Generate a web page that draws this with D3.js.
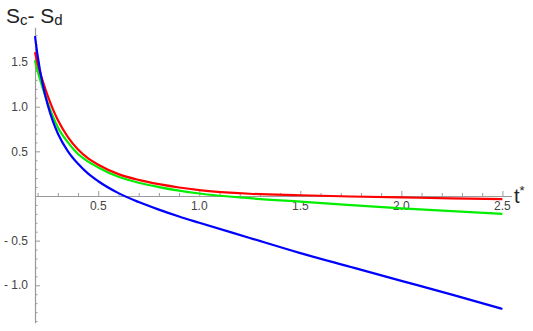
<!DOCTYPE html>
<html lang="en">
<head>
  <meta charset="UTF-8">
  <title>Sc - Sd vs t*</title>
  <script src="https://d3js.org/d3.v7.min.js"></script>
  <style>
    body { margin: 0; background: #fff; }
    svg { display: block; font-family: "Liberation Sans", Arial, sans-serif; }
  </style>
</head>
<body>
  <svg id="chart" width="533" height="331"></svg>
  <script>
    // t* sample points
    const tValues = [0.187, 0.2, 0.225, 0.25, 0.275, 0.3, 0.35, 0.4, 0.45, 0.5, 0.6, 0.7, 0.8, 0.9, 1.0, 1.25, 1.5, 1.75, 2.0, 2.25, 2.5];
    const redValues   = [1.61, 1.48, 1.29, 1.12, 0.975, 0.85, 0.66, 0.52, 0.42, 0.35, 0.245, 0.18, 0.132, 0.095, 0.066, 0.025, 0.008, -0.006, -0.016, -0.026, -0.035];
    const greenValues = [1.52, 1.40, 1.21, 1.04, 0.895, 0.77, 0.60, 0.47, 0.385, 0.32, 0.215, 0.148, 0.100, 0.060, 0.028, -0.025, -0.064, -0.102, -0.138, -0.17, -0.2];
    const blueValues  = [1.79, 1.57, 1.25, 1.02, 0.84, 0.70, 0.50, 0.36, 0.25, 0.165, 0.032, -0.068, -0.153, -0.23, -0.30, -0.47, -0.64, -0.795, -0.95, -1.105, -1.265];

    const xMajor = [0.5, 1.0, 1.5, 2.0, 2.5];
    const yMajor = [-1.0, -0.5, 0.5, 1.0, 1.5];

    const svg = d3.select("#chart");

    const x = d3.scaleLinear().domain([0.187, 2.545]).range([35, 511.5]);
    const y = d3.scaleLinear().domain([-1.42, 1.89]).range([322.8, 27.2]);

    const xMinor = d3.range(2, 26).map(d => d / 10).filter(d => !xMajor.some(m => Math.abs(m - d) < 1e-9));
    const yMinor = d3.range(-14, 19).map(d => d / 10).filter(d => d !== 0 && !yMajor.some(m => Math.abs(m - d) < 1e-9));

    const fmt = d => d < 0 ? "- " + Math.abs(d).toFixed(1) : d.toFixed(1);
    const axisColor = "#9a9a9a";

    // x axis: ticks point up, labels below
    const gx = svg.append("g").attr("transform", `translate(0,${y(0)})`);
    gx.call(d3.axisTop(x).tickValues(xMinor).tickSize(3).tickSizeOuter(0).tickFormat(""));
    gx.append("g").call(d3.axisTop(x).tickValues(xMajor).tickSize(5).tickSizeOuter(0).tickFormat(""))
      .select(".domain").remove();
    gx.selectAll("line").attr("stroke", axisColor);
    gx.select(".domain").attr("stroke", axisColor).attr("stroke-width", 1.2);
    gx.selectAll(".xlab").data(xMajor).enter().append("text")
      .attr("class", "xlab")
      .attr("x", d => x(d))
      .attr("y", 14)
      .attr("text-anchor", "middle")
      .attr("font-size", 12)
      .attr("fill", "#444")
      .text(fmt);

    // y axis: ticks point right, labels left
    const gy = svg.append("g").attr("transform", `translate(${x(0.187)},0)`);
    gy.call(d3.axisRight(y).tickValues(yMinor).tickSize(2.5).tickSizeOuter(0).tickFormat(""));
    gy.append("g").call(d3.axisRight(y).tickValues(yMajor).tickSize(5).tickSizeOuter(0).tickFormat(""))
      .select(".domain").remove();
    gy.selectAll("line").attr("stroke", axisColor);
    gy.select(".domain").attr("stroke", axisColor).attr("stroke-width", 1.2);
    gy.selectAll(".ylab").data(yMajor).enter().append("text")
      .attr("class", "ylab")
      .attr("x", -7)
      .attr("y", d => y(d))
      .attr("dy", "0.35em")
      .attr("text-anchor", "end")
      .attr("font-size", 12)
      .attr("fill", "#444")
      .text(fmt);

    // curves
    const line = d3.line()
      .x((d, i) => x(tValues[i]))
      .y(d => y(d))
      .curve(d3.curveMonotoneX);

    const series = [
      { values: greenValues, color: "#00ee00" },
      { values: redValues, color: "#ff0000" },
      { values: blueValues, color: "#0000ff" }
    ];
    svg.selectAll(".curve").data(series).enter().append("path")
      .attr("class", "curve")
      .attr("d", d => line(d.values))
      .attr("fill", "none")
      .attr("stroke", d => d.color)
      .attr("stroke-width", 2.2);

    // axis labels
    const yl = svg.append("text").attr("x", 6).attr("y", 23).attr("font-size", 21).attr("fill", "#222");
    yl.append("tspan").text("S");
    yl.append("tspan").attr("font-size", 15).attr("dy", 2).text("c");
    yl.append("tspan").attr("dy", -2).text("- S");
    yl.append("tspan").attr("font-size", 15).attr("dy", 2).text("d");

    const xl = svg.append("text").attr("x", 514).attr("y", 203).attr("font-size", 20).attr("fill", "#222");
    xl.append("tspan").text("t");
    xl.append("tspan").attr("font-size", 13).attr("dy", -8).text("*");
  </script>
</body>
</html>
